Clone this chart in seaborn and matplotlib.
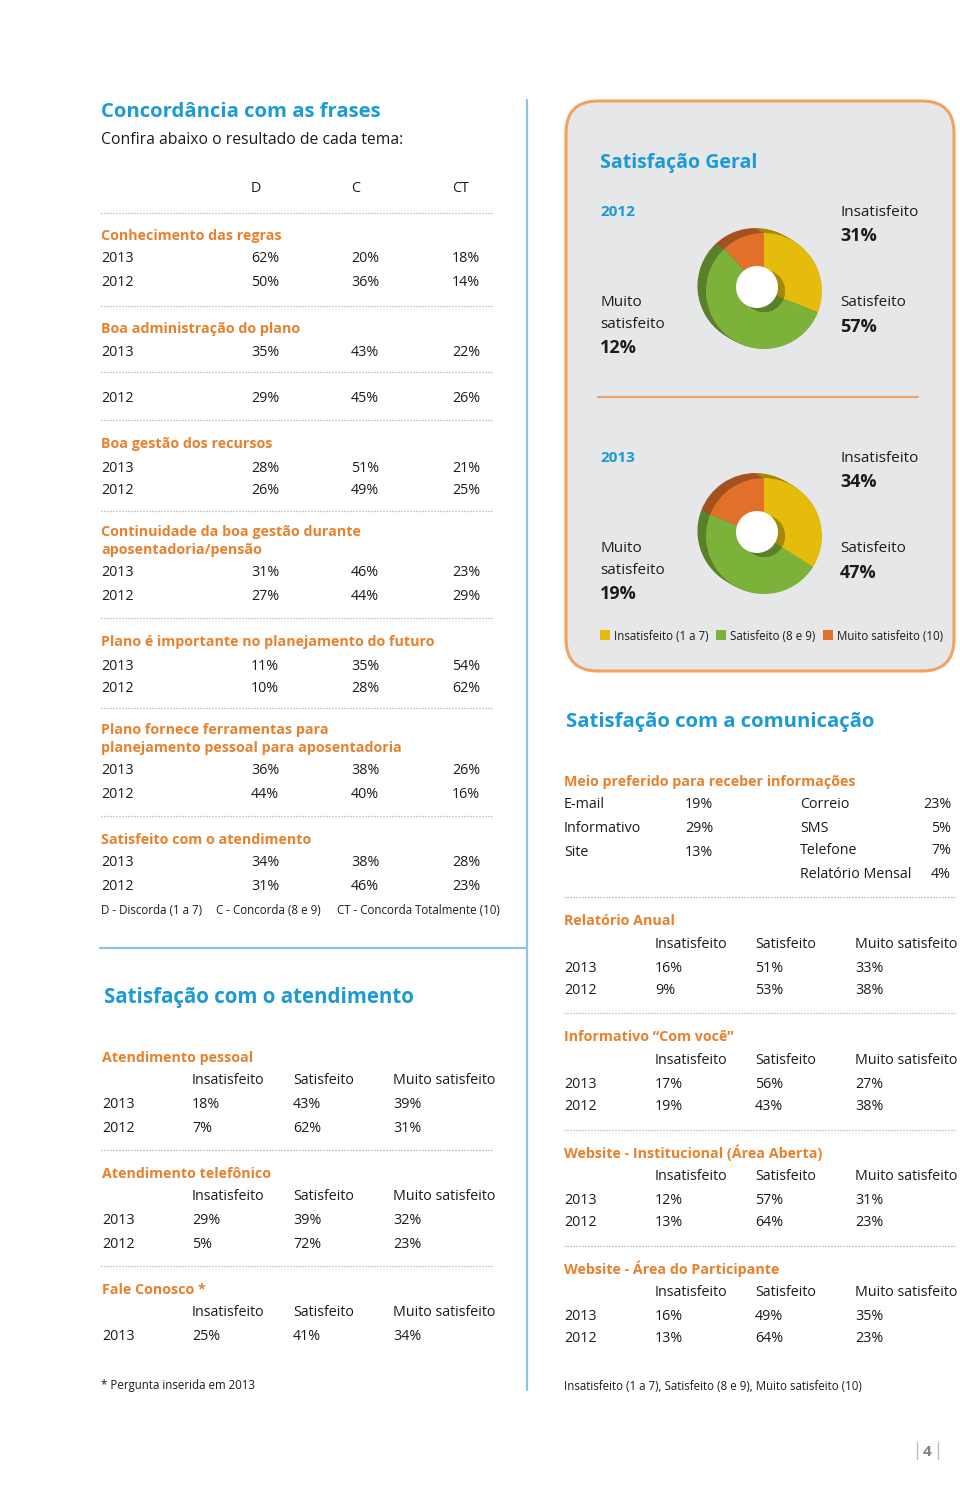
import numpy as np
import matplotlib
matplotlib.use("Agg")
import matplotlib.pyplot as plt
import matplotlib.colors as mcolors
from matplotlib.patches import FancyBboxPatch, Rectangle, Circle
import seaborn as sns

# ---- dados ----
cols_concord = ["D", "C", "CT"]
topics_concord = [
    ["Conhecimento das regras"],
    ["Boa administração do plano"],
    ["Boa gestão dos recursos"],
    ["Continuidade da boa gestão durante", "aposentadoria/pensão"],
    ["Plano é importante no planejamento do futuro"],
    ["Plano fornece ferramentas para", "planejamento pessoal para aposentadoria"],
    ["Satisfeito com o atendimento"],
]
concord_2013 = [[62, 20, 18], [35, 43, 22], [28, 51, 21], [31, 46, 23],
                [11, 35, 54], [36, 38, 26], [34, 38, 28]]
concord_2012 = [[50, 36, 14], [29, 45, 26], [26, 49, 25], [27, 44, 29],
                [10, 28, 62], [44, 40, 16], [31, 46, 23]]
legend_concord = ["D - Discorda (1 a 7)", "C - Concorda (8 e 9)", "CT - Concorda Totalmente (10)"]

cols_sat = ["Insatisfeito", "Satisfeito", "Muito satisfeito"]
topics_atend = ["Atendimento pessoal", "Atendimento telefônico", "Fale Conosco *"]
atend_2013 = [[18, 43, 39], [29, 39, 32], [25, 41, 34]]
atend_2012 = [[7, 62, 31], [5, 72, 23], None]

geral_labels = ["Insatisfeito", "Satisfeito", "Muito satisfeito"]
geral_2012 = [31, 57, 12]
geral_2013 = [34, 47, 19]
geral_legend = ["Insatisfeito (1 a 7)", "Satisfeito (8 e 9)", "Muito satisfeito (10)"]

meio_left = ["E-mail", "Informativo", "Site"]
meio_left_vals = [19, 29, 13]
meio_right = ["Correio", "SMS", "Telefone", "Relatório Mensal"]
meio_right_vals = [23, 5, 7, 4]

topics_com = ["Relatório Anual", "Informativo “Com você”",
              "Website - Institucional (Área Aberta)", "Website - Área do Participante"]
com_2013 = [[16, 51, 33], [17, 56, 27], [12, 57, 31], [16, 49, 35]]
com_2012 = [[9, 53, 38], [19, 43, 38], [13, 64, 23], [13, 64, 23]]

# ---- estilo ----
sns.set_style("white")
plt.rcParams["font.family"] = ["Open Sans", "DejaVu Sans"]

BLUE = "#1b9ad6"
ORANGE = "#e8812d"
TXT = "#1e1b1c"
DOT = "#9b9b9b"
pie_colors = ["#e5bb0c", "#7db23a", "#e2702a"]

W, H = 960, 1492
fig = plt.figure(figsize=(W / 100, H / 100), dpi=100)
ax = fig.add_axes([0, 0, 1, 1])
ax.set_xlim(0, W)
ax.set_ylim(H, 0)
ax.axis("off")

FS = 10.3


def txt(x, y, s, size=FS, color=TXT, weight="normal", ha="left"):
    ax.text(x, y + 2, s, fontsize=size, color=color, fontweight=weight, ha=ha, va="center")


def dots(y, x0, x1):
    ax.plot([x0, x1], [y, y], color=DOT, lw=0.9, ls=(0, (0.8, 1.6)))


# ---- Concordância com as frases ----
txt(101, 110, "Concordância com as frases", size=14.6, color=BLUE, weight="bold")
txt(101, 138, "Confira abaixo o resultado de cada tema:", size=11.3)
cx_concord = [251, 351, 452]
for x, c in zip(cx_concord, cols_concord):
    txt(x, 187, c)

head_y = [234, 327, 442, 530, 640, 728, 838]
r13_y = [257, 350, 466, 571, 664, 769, 861]
r12_y = [280, 396, 489, 594, 687, 792, 885]
for y in [213, 306, 372, 420, 511, 618, 708, 816]:
    dots(y, 101, 494)

for i, lines in enumerate(topics_concord):
    for j, line in enumerate(lines):
        txt(101, head_y[i] + 18 * j, line, color=ORANGE, weight="bold")
    txt(101, r13_y[i], "2013")
    txt(101, r12_y[i], "2012")
    for x, v in zip(cx_concord, concord_2013[i]):
        txt(x, r13_y[i], f"{v}%")
    for x, v in zip(cx_concord, concord_2012[i]):
        txt(x, r12_y[i], f"{v}%")

for x, s in zip([101, 216, 337], legend_concord):
    txt(x, 909, s, size=8.3)

# linhas azuis
ax.plot([527, 527], [100, 1390], color="#8cc4e8", lw=1.6)
ax.plot([100, 527], [948, 948], color="#8cc4e8", lw=1.6)

# ---- Satisfação com o atendimento ----
txt(104, 996, "Satisfação com o atendimento", size=14.8, color=BLUE, weight="bold")
cx_sat_l = [192, 293, 393]
for i, topic in enumerate(topics_atend):
    y0 = [1056, 1172, 1288][i]
    txt(102, y0, topic, color=ORANGE, weight="bold")
    for x, c in zip(cx_sat_l, cols_sat):
        txt(x, y0 + 23, c)
    txt(102, y0 + 47, "2013")
    for x, v in zip(cx_sat_l, atend_2013[i]):
        txt(x, y0 + 47, f"{v}%")
    if atend_2012[i] is not None:
        txt(102, y0 + 70, "2012")
        for x, v in zip(cx_sat_l, atend_2012[i]):
            txt(x, y0 + 70, f"{v}%")
for y in [1150, 1266]:
    dots(y, 101, 494)
txt(101, 1383, "* Pergunta inserida em 2013", size=8.3)

# ---- Satisfação Geral (caixa) ----
box = FancyBboxPatch((566, 101), 388, 570, boxstyle="round,pad=0,rounding_size=32",
                     facecolor="#e6e7e8", edgecolor="#f0a263", lw=2.2, zorder=0)
ax.add_patch(box)
txt(600, 161, "Satisfação Geral", size=14, color=BLUE, weight="bold")
ax.plot([598, 918], [397, 397], color="#f0a263", lw=1.6)


def label_block(y0, year, vals):
    txt(600, y0, year, size=11, color=BLUE, weight="bold")
    txt(840, y0, geral_labels[0], size=11)
    txt(840, y0 + 24, f"{vals[0]}%", size=13, weight="bold")
    txt(840, y0 + 91, geral_labels[1], size=11)
    txt(840, y0 + 115, f"{vals[1]}%", size=13, weight="bold")
    muito, sat = geral_labels[2].split(" ")
    txt(600, y0 + 91, muito, size=11)
    txt(600, y0 + 112, sat, size=11)
    txt(600, y0 + 136, f"{vals[2]}%", size=13, weight="bold")


def darker(c, f=0.72):
    r, g, b = mcolors.to_rgb(c)
    return (r * f, g * f, b * f)


def donut(vals, cx, cy):
    R = 80
    dax = fig.add_axes([(cx - R) / W, 1 - (cy + R) / H, 2 * R / W, 2 * R / H])
    dark = [darker(c) for c in pie_colors]
    r_out, r_in = 58, 21
    # extrusao 3D
    for k in range(9, 0, -1):
        dx, dy = -k * 0.95, k * 0.55
        dax.pie(vals, colors=dark, startangle=90, counterclock=False, radius=r_out,
                center=(dx, dy), wedgeprops=dict(width=r_out - r_in, lw=0))
    dax.pie(vals, colors=pie_colors, startangle=90, counterclock=False, radius=r_out,
            wedgeprops=dict(width=r_out - r_in, lw=0))
    # parede interna do furo
    dax.pie(vals, colors=dark, startangle=90, counterclock=False, radius=r_in,
            wedgeprops=dict(lw=0))
    dax.add_patch(Circle((-7, 4), r_in, color="white", lw=0, zorder=5))
    dax.set_xlim(-R, R)
    dax.set_ylim(-R, R)
    dax.set_aspect("equal")
    dax.axis("off")


label_block(210, "2012", geral_2012)
label_block(456, "2013", geral_2013)
donut(geral_2012, 764, 291)
donut(geral_2013, 764, 536)

for x, c, s in zip([600, 716, 823], pie_colors, geral_legend):
    ax.add_patch(Rectangle((x, 630), 10, 10, color=c, lw=0))
    txt(x + 14, 635, s, size=8.3)

# ---- Satisfação com a comunicação ----
txt(566, 720, "Satisfação com a comunicação", size=14.7, color=BLUE, weight="bold")
txt(564, 780, "Meio preferido para receber informações", color=ORANGE, weight="bold")
for i, (lab, v) in enumerate(zip(meio_left, meio_left_vals)):
    y = 803 + 23.5 * i
    txt(564, y, lab)
    txt(685, y, f"{v}%")
for i, (lab, v) in enumerate(zip(meio_right, meio_right_vals)):
    y = 803 + 23 * i
    txt(800, y, lab)
    txt(951, y, f"{v}%", ha="right")

cx_sat_r = [655, 755, 855]
for i, topic in enumerate(topics_com):
    y0 = [919, 1035, 1151, 1267][i]
    txt(564, y0, topic, color=ORANGE, weight="bold")
    for x, c in zip(cx_sat_r, cols_sat):
        txt(x, y0 + 23, c)
    txt(564, y0 + 47, "2013")
    txt(564, y0 + 70, "2012")
    for x, v in zip(cx_sat_r, com_2013[i]):
        txt(x, y0 + 47, f"{v}%")
    for x, v in zip(cx_sat_r, com_2012[i]):
        txt(x, y0 + 70, f"{v}%")
for y in [897, 1013, 1130, 1246]:
    dots(y, 564, 957)
txt(564, 1385, ", ".join(geral_legend), size=8.3)

# numero da pagina
ax.plot([917, 917], [1442, 1459], color="#bbbbbb", lw=1)
ax.plot([938, 938], [1442, 1459], color="#bbbbbb", lw=1)
txt(927.5, 1450, "4", size=11, color="#808080", weight="bold", ha="center")

fig.savefig("out.png", dpi=100, facecolor="white")
